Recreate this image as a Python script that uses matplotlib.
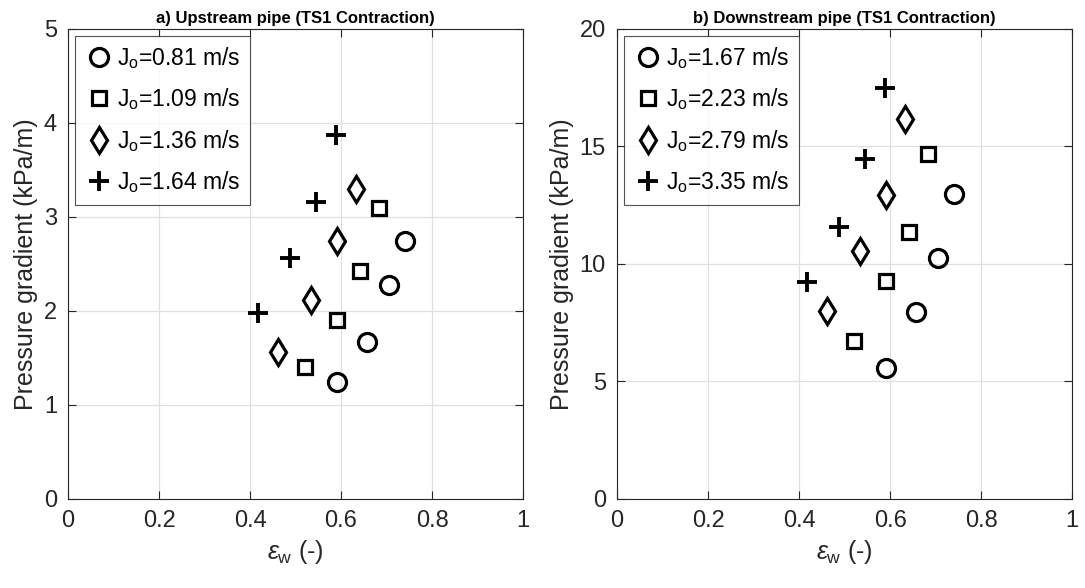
import numpy as np
import matplotlib.pyplot as plt

plt.rcParams['font.family'] = ['Liberation Sans', 'DejaVu Sans']
plt.rcParams['mathtext.fontset'] = 'custom'
plt.rcParams['mathtext.rm'] = 'Liberation Sans'
plt.rcParams['mathtext.it'] = 'Liberation Sans:italic'

# void fraction of water (same for both pipes)
eps_w = [
    [0.590, 0.658, 0.706, 0.741],   # circles
    [0.521, 0.591, 0.642, 0.684],   # squares
    [0.462, 0.535, 0.590, 0.632],   # diamonds
    [0.417, 0.488, 0.544, 0.589],   # plus
]

# upstream pressure gradient (kPa/m)
dp_up = [
    [1.24, 1.67, 2.28, 2.74],
    [1.40, 1.90, 2.43, 3.10],
    [1.56, 2.12, 2.74, 3.30],
    [1.98, 2.56, 3.16, 3.87],
]
labels_up = ['0.81', '1.09', '1.36', '1.64']

# downstream pressure gradient (kPa/m)
dp_down = [
    [5.56, 7.97, 10.24, 12.99],
    [6.74, 9.28, 11.35, 14.67],
    [8.01, 10.55, 12.95, 16.18],
    [9.22, 11.56, 14.48, 17.50],
]
labels_down = ['1.67', '2.23', '2.79', '3.35']

markers = ['o', 's', 'd', '+']
msizes = [13, 10.5, 13.5, 15]


def draw_panel(ax, dp, labels, ymax, yticks, title):
    for i in range(4):
        m = markers[i]
        ax.plot(eps_w[i], dp[i], linestyle='none', marker=m,
                markersize=msizes[i], markerfacecolor='none',
                markeredgecolor='black', markeredgewidth=2.3 if m != '+' else 2.8,
                label=r'J$_{\mathregular{o}}$=' + labels[i] + ' m/s')
    ax.set_xlim(0, 1)
    ax.set_ylim(0, ymax)
    ax.set_xticks([0, 0.2, 0.4, 0.6, 0.8, 1])
    ax.set_xticklabels(['0', '0.2', '0.4', '0.6', '0.8', '1'])
    ax.set_yticks(yticks)
    ax.grid(True, color='#e0e0e0', linewidth=0.9)
    ax.set_axisbelow(True)
    ax.tick_params(direction='in', top=True, right=True, labelsize=17,
                   colors='#262626', length=6, width=0.8, pad=8)
    for s in ax.spines.values():
        s.set_color('#262626')
        s.set_linewidth(0.8)
    ax.set_xlabel(r'$\epsilon_\mathregular{w}$ (-)', fontsize=18, color='#262626')
    ax.set_ylabel('Pressure gradient (kPa/m)', fontsize=18, color='#262626')
    ax.set_title(title, fontsize=12, fontweight='bold', pad=4)
    leg = ax.legend(loc='upper left', fontsize=16.5, frameon=True, fancybox=False,
                    edgecolor='#262626', borderpad=0.4, labelspacing=0.68,
                    handletextpad=0.15, handlelength=1.3,
                    borderaxespad=0.3)
    leg.get_frame().set_linewidth(0.8)


fig = plt.figure(figsize=(10.85, 5.88), dpi=100)
ax1 = fig.add_axes([0.0627, 0.1514, 0.4194, 0.7993])
ax2 = fig.add_axes([0.5687, 0.1514, 0.4194, 0.7993])

draw_panel(ax1, dp_up, labels_up, 5, [0, 1, 2, 3, 4, 5],
           'a) Upstream pipe (TS1 Contraction)')
draw_panel(ax2, dp_down, labels_down, 20, [0, 5, 10, 15, 20],
           'b) Downstream pipe (TS1 Contraction)')

fig.savefig('out.png', dpi=100)
